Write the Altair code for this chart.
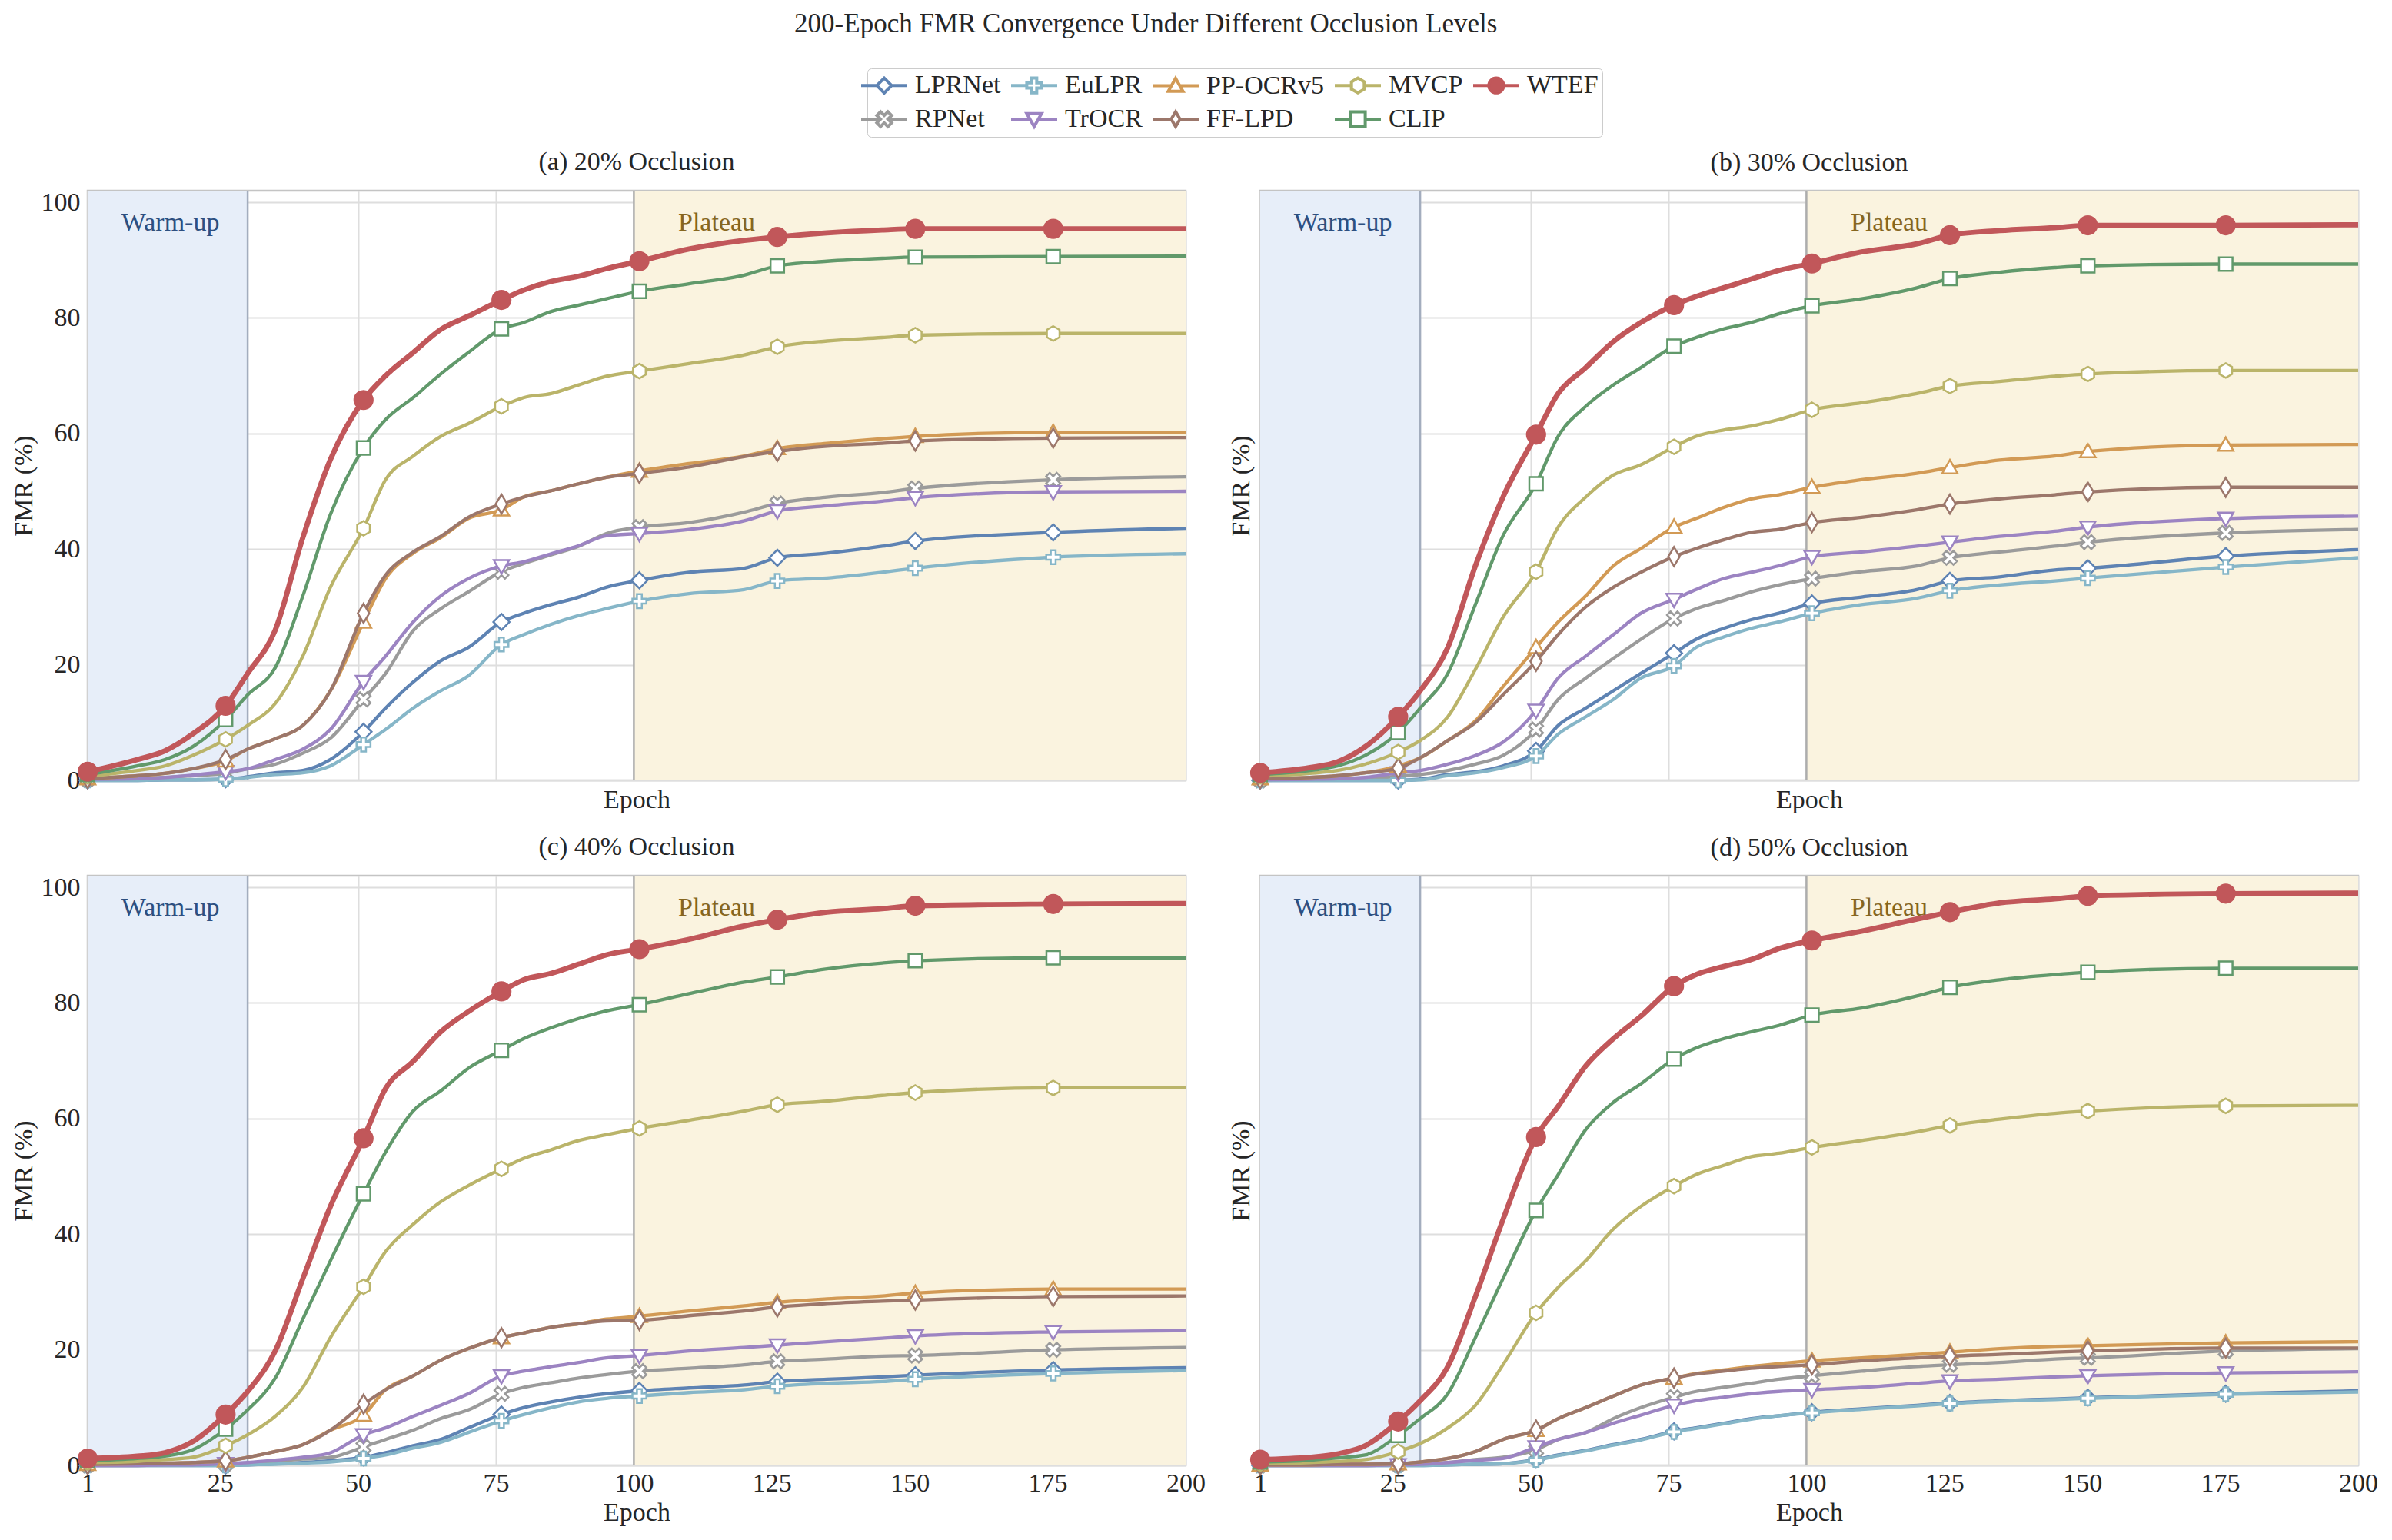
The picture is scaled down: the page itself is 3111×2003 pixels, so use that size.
import altair as alt
import pandas as pd

# ---------------- data ----------------
EPOCHS = [1, 10, 15, 20, 26, 30, 35, 40, 45, 51, 55, 60, 65, 70, 76, 80, 85, 90, 95,
          101, 110, 120, 126, 135, 145, 151, 176, 200]
MARKER_EPOCHS = [1, 26, 51, 76, 101, 126, 151, 176]
X_TICKS = [1, 25, 50, 75, 100, 125, 150, 175, 200]
Y_TICKS = [0, 20, 40, 60, 80, 100]

# (a) 20% occlusion
LPRNET_20 = [0.0, 0.0, 0.1, 0.1, 0.2, 0.6, 1.3, 1.7, 3.6, 8.4, 12.5, 17.0, 20.7, 23.0, 27.4, 28.9, 30.4, 31.7, 33.4, 34.6, 36.0, 36.7, 38.5, 39.3, 40.5, 41.4, 42.9, 43.6]
EULPR_20 = [0.0, 0.0, 0.1, 0.1, 0.2, 0.5, 1.0, 1.3, 2.5, 6.2, 8.8, 12.5, 15.5, 18.1, 23.5, 25.2, 27.0, 28.5, 29.7, 31.0, 32.3, 33.0, 34.5, 35.0, 36.0, 36.7, 38.6, 39.2]
RPNET_20 = [0.1, 0.3, 0.5, 0.8, 1.2, 2.0, 2.8, 4.7, 7.3, 14.0, 18.5, 25.9, 29.7, 32.6, 36.1, 37.5, 39.0, 40.5, 42.7, 43.8, 44.6, 46.4, 47.9, 49.0, 49.8, 50.5, 52.0, 52.5]
TROCR_20 = [0.2, 0.3, 0.5, 0.9, 1.5, 2.0, 3.6, 5.4, 8.8, 17.1, 21.5, 27.4, 31.9, 34.9, 37.1, 37.8, 39.2, 40.6, 42.3, 42.7, 43.4, 44.9, 46.6, 47.5, 48.3, 48.9, 49.9, 50.0]
PPOCR_20 = [0.3, 0.8, 1.2, 2.0, 3.4, 5.4, 7.2, 9.5, 15.5, 27.4, 34.9, 39.3, 42.0, 45.3, 46.8, 49.0, 50.1, 51.3, 52.4, 53.5, 54.8, 56.1, 57.4, 58.3, 59.1, 59.5, 60.2, 60.2]
FFLPD_20 = [0.3, 0.8, 1.2, 2.0, 3.6, 5.4, 7.2, 9.5, 15.5, 28.9, 35.5, 39.5, 42.2, 45.5, 47.8, 49.0, 50.1, 51.3, 52.4, 53.1, 54.2, 56.0, 56.9, 57.8, 58.3, 58.7, 59.2, 59.3]
MVCP_20 = [0.7, 1.7, 2.5, 4.3, 7.1, 9.5, 13.3, 21.5, 33.4, 43.6, 52.0, 56.1, 59.5, 61.7, 64.7, 66.2, 66.9, 68.4, 69.9, 70.8, 72.1, 73.6, 75.0, 76.0, 76.6, 77.0, 77.3, 77.3]
CLIP_20 = [1.0, 2.5, 3.6, 5.8, 10.5, 14.8, 19.5, 31.9, 46.0, 57.5, 62.4, 66.2, 70.3, 74.0, 78.1, 79.2, 81.1, 82.2, 83.3, 84.6, 85.9, 87.4, 89.0, 89.8, 90.3, 90.5, 90.6, 90.7]
WTEF_20 = [1.5, 3.6, 5.1, 8.0, 12.9, 18.5, 26.0, 42.0, 55.5, 65.8, 70.0, 74.0, 78.0, 80.3, 83.1, 84.8, 86.3, 87.2, 88.5, 89.8, 91.9, 93.4, 94.0, 94.7, 95.2, 95.4, 95.4, 95.4]

# (b) 30% occlusion
LPRNET_30 = [0.0, 0.0, 0.0, 0.0, 0.0, 0.2, 1.0, 1.5, 2.5, 5.1, 9.5, 12.5, 15.5, 18.5, 22.0, 24.4, 26.3, 27.8, 28.9, 30.6, 31.7, 33.0, 34.5, 35.2, 36.4, 36.7, 38.8, 39.9]
EULPR_30 = [0.0, 0.0, 0.0, 0.0, 0.0, 0.1, 0.8, 1.3, 2.2, 4.2, 8.0, 11.0, 14.0, 17.7, 19.8, 23.0, 24.8, 26.3, 27.4, 28.9, 30.4, 31.5, 32.8, 33.8, 34.5, 35.0, 36.9, 38.5]
RPNET_30 = [0.0, 0.1, 0.2, 0.3, 0.7, 1.0, 1.7, 2.8, 4.3, 8.8, 14.0, 17.7, 21.1, 24.4, 28.0, 29.7, 31.1, 32.6, 33.8, 34.9, 36.1, 37.1, 38.5, 39.5, 40.5, 41.2, 42.8, 43.4]
TROCR_30 = [0.1, 0.2, 0.3, 0.5, 1.3, 1.7, 2.8, 4.3, 6.6, 12.1, 17.7, 21.5, 25.2, 28.9, 31.3, 33.0, 34.9, 36.0, 37.1, 38.7, 39.5, 40.5, 41.2, 42.2, 43.1, 43.8, 45.3, 45.7]
PPOCR_30 = [0.3, 0.5, 0.8, 1.3, 2.5, 3.9, 6.9, 10.3, 16.2, 23.0, 27.4, 31.9, 37.1, 40.1, 43.8, 45.3, 47.2, 48.7, 49.4, 50.7, 52.0, 53.1, 54.1, 55.4, 56.1, 56.9, 58.0, 58.1]
FFLPD_30 = [0.3, 0.5, 0.8, 1.3, 2.1, 3.9, 6.9, 10.0, 14.8, 20.6, 25.2, 30.0, 33.4, 36.0, 38.7, 40.1, 41.6, 42.9, 43.4, 44.6, 45.5, 46.8, 47.8, 48.7, 49.4, 49.9, 50.7, 50.7]
MVCP_30 = [0.7, 1.2, 1.7, 2.8, 4.9, 6.9, 11.0, 19.2, 28.2, 36.1, 43.8, 49.0, 52.8, 54.6, 57.7, 59.5, 60.6, 61.3, 62.4, 64.1, 65.3, 66.9, 68.2, 69.0, 69.9, 70.3, 70.9, 70.9]
CLIP_30 = [1.0, 1.7, 2.5, 4.3, 8.3, 12.5, 18.5, 30.4, 42.3, 51.3, 59.5, 64.7, 68.4, 71.4, 75.1, 76.6, 78.1, 79.2, 80.7, 82.1, 83.3, 85.2, 86.8, 87.9, 88.7, 89.0, 89.3, 89.3]
WTEF_30 = [1.3, 2.2, 3.2, 5.8, 11.0, 15.5, 23.0, 37.1, 49.0, 59.8, 66.9, 71.4, 75.9, 79.2, 82.2, 83.7, 85.2, 86.7, 88.2, 89.4, 91.4, 92.8, 94.3, 95.1, 95.6, 96.0, 96.0, 96.1]

# (c) 40% occlusion
LPRNET_40 = [0.0, 0.0, 0.0, 0.0, 0.0, 0.1, 0.3, 0.5, 0.8, 1.4, 2.2, 3.4, 4.5, 6.5, 8.8, 10.0, 11.0, 11.8, 12.4, 12.9, 13.4, 13.9, 14.5, 14.9, 15.3, 15.6, 16.5, 16.9]
EULPR_40 = [0.0, 0.0, 0.0, 0.0, 0.0, 0.1, 0.2, 0.4, 0.6, 1.2, 1.8, 3.0, 4.0, 5.7, 7.7, 8.8, 10.0, 11.0, 11.6, 12.0, 12.6, 13.1, 13.7, 14.2, 14.5, 14.9, 15.9, 16.4]
RPNET_40 = [0.0, 0.0, 0.1, 0.1, 0.2, 0.4, 0.7, 1.1, 1.4, 3.2, 4.5, 6.1, 8.1, 9.6, 12.4, 13.5, 14.3, 15.1, 15.7, 16.3, 16.8, 17.4, 18.0, 18.4, 18.9, 19.0, 20.0, 20.4]
TROCR_40 = [0.0, 0.0, 0.1, 0.1, 0.3, 0.5, 0.9, 1.4, 2.2, 5.3, 6.5, 8.5, 10.4, 12.4, 15.5, 16.3, 17.1, 17.8, 18.6, 19.0, 19.8, 20.4, 20.8, 21.4, 22.0, 22.4, 23.1, 23.3]
PPOCR_40 = [0.2, 0.3, 0.4, 0.5, 0.8, 1.4, 2.4, 3.6, 6.1, 8.7, 13.1, 15.5, 18.2, 20.2, 22.1, 22.9, 23.9, 24.5, 25.3, 25.8, 26.7, 27.6, 28.2, 28.8, 29.3, 29.8, 30.5, 30.5]
FFLPD_40 = [0.2, 0.3, 0.4, 0.5, 0.8, 1.4, 2.4, 3.6, 6.1, 10.6, 13.1, 15.5, 18.2, 20.2, 22.1, 22.9, 23.9, 24.5, 25.0, 25.1, 25.9, 26.7, 27.4, 28.0, 28.4, 28.6, 29.2, 29.3]
MVCP_40 = [0.5, 0.7, 1.0, 1.4, 3.4, 5.3, 8.5, 13.5, 22.1, 30.9, 37.0, 41.7, 45.6, 48.4, 51.3, 53.1, 54.6, 56.2, 57.2, 58.3, 59.7, 61.3, 62.4, 63.0, 64.0, 64.5, 65.3, 65.3]
CLIP_40 = [0.8, 1.2, 1.6, 2.7, 6.3, 9.6, 15.1, 25.3, 35.4, 47.0, 54.2, 61.3, 64.8, 68.7, 71.8, 73.8, 75.7, 77.3, 78.6, 79.7, 81.6, 83.6, 84.5, 85.9, 86.9, 87.3, 87.8, 87.8]
WTEF_40 = [1.2, 1.6, 2.2, 4.1, 8.8, 12.8, 19.8, 32.3, 44.8, 56.6, 65.2, 69.9, 75.0, 78.5, 82.0, 84.0, 85.1, 86.7, 88.3, 89.3, 91.0, 93.3, 94.4, 95.7, 96.3, 96.8, 97.1, 97.2]

# (d) 50% occlusion
LPRNET_50 = [0.0, 0.0, 0.0, 0.0, 0.0, 0.0, 0.1, 0.2, 0.3, 1.0, 1.8, 2.6, 3.6, 4.5, 5.9, 6.5, 7.3, 8.1, 8.6, 9.2, 9.8, 10.4, 10.8, 11.2, 11.5, 11.7, 12.4, 12.9]
EULPR_50 = [0.0, 0.0, 0.0, 0.0, 0.0, 0.0, 0.1, 0.2, 0.3, 0.9, 1.7, 2.5, 3.5, 4.4, 5.8, 6.4, 7.2, 8.0, 8.6, 9.1, 9.7, 10.3, 10.7, 11.1, 11.4, 11.6, 12.3, 12.7]
RPNET_50 = [0.0, 0.0, 0.0, 0.0, 0.1, 0.2, 0.5, 1.0, 1.4, 2.7, 4.5, 5.7, 8.1, 10.0, 11.8, 12.8, 13.5, 14.2, 14.9, 15.5, 16.3, 17.1, 17.4, 17.8, 18.4, 18.6, 19.8, 20.2]
TROCR_50 = [0.0, 0.0, 0.0, 0.0, 0.1, 0.2, 0.5, 0.9, 1.2, 3.2, 4.5, 5.7, 7.3, 8.7, 10.4, 11.2, 11.8, 12.4, 12.8, 13.1, 13.5, 14.2, 14.6, 14.9, 15.3, 15.5, 16.0, 16.2]
PPOCR_50 = [0.1, 0.1, 0.2, 0.2, 0.3, 0.6, 1.2, 2.4, 4.5, 6.1, 8.1, 10.0, 12.0, 13.9, 15.1, 15.9, 16.5, 17.1, 17.6, 18.1, 18.6, 19.2, 19.6, 20.2, 20.6, 20.7, 21.2, 21.4]
FFLPD_50 = [0.1, 0.1, 0.2, 0.2, 0.3, 0.6, 1.2, 2.4, 4.5, 6.1, 8.1, 10.0, 12.0, 13.9, 15.1, 15.8, 16.3, 16.8, 17.1, 17.4, 18.1, 18.6, 18.9, 19.2, 19.6, 19.8, 20.3, 20.3]
MVCP_50 = [0.3, 0.5, 0.7, 1.0, 2.4, 3.8, 6.5, 10.4, 17.4, 26.4, 30.8, 35.4, 40.9, 44.8, 48.3, 50.3, 51.9, 53.4, 54.0, 55.0, 56.2, 57.7, 58.8, 59.9, 60.9, 61.3, 62.2, 62.3]
CLIP_50 = [0.6, 0.9, 1.3, 1.8, 5.2, 8.1, 12.4, 22.1, 32.3, 44.1, 50.3, 58.1, 62.8, 66.0, 70.3, 72.2, 73.8, 75.0, 76.1, 77.9, 79.1, 81.2, 82.7, 84.0, 84.9, 85.3, 86.0, 86.0]
WTEF_50 = [1.0, 1.4, 2.0, 3.4, 7.6, 11.2, 17.1, 29.2, 42.5, 56.8, 62.1, 69.1, 73.8, 77.7, 82.9, 84.9, 86.3, 87.5, 89.4, 90.8, 92.4, 94.5, 95.7, 97.3, 98.0, 98.5, 98.9, 99.0]

MODELS = ["LPRNet", "RPNet", "EuLPR", "TrOCR", "PP-OCRv5", "FF-LPD", "MVCP", "CLIP", "WTEF"]
LEGEND_ORDER = ["LPRNet", "EuLPR", "PP-OCRv5", "MVCP", "WTEF", "RPNet", "TrOCR", "FF-LPD", "CLIP"]
PANEL_KEYS = ["20", "30", "40", "50"]
PANEL_TITLES = ["(a) 20% Occlusion", "(b) 30% Occlusion", "(c) 40% Occlusion", "(d) 50% Occlusion"]

SERIES = {
    "20": [LPRNET_20, RPNET_20, EULPR_20, TROCR_20, PPOCR_20, FFLPD_20, MVCP_20, CLIP_20, WTEF_20],
    "30": [LPRNET_30, RPNET_30, EULPR_30, TROCR_30, PPOCR_30, FFLPD_30, MVCP_30, CLIP_30, WTEF_30],
    "40": [LPRNET_40, RPNET_40, EULPR_40, TROCR_40, PPOCR_40, FFLPD_40, MVCP_40, CLIP_40, WTEF_40],
    "50": [LPRNET_50, RPNET_50, EULPR_50, TROCR_50, PPOCR_50, FFLPD_50, MVCP_50, CLIP_50, WTEF_50],
}

SPAN_NAMES = ["Warm-up", "Plateau"]
SPAN_START = [1, 100]
SPAN_END = [30, 200]
SPAN_LABEL_X = [16, 115]
SPAN_LABEL_Y = [96.4, 96.4]

# ---------------- styles ----------------
FONT = "Liberation Serif"
TEXT = "#262626"
FS = 34
PW, PH = 1428, 767

COLORS = {
    "LPRNet": "#5E83B3", "RPNet": "#9B9B9B", "EuLPR": "#86B6C8", "TrOCR": "#9C84C2",
    "PP-OCRv5": "#D29A55", "FF-LPD": "#9C776B", "MVCP": "#BAB46A", "CLIP": "#61996B",
    "WTEF": "#C1575A",
}
LINE_W = {m: 4.3 for m in MODELS}
LINE_W["WTEF"] = 6.8

PLUS = [(-0.35, -1), (0.35, -1), (0.35, -0.35), (1, -0.35), (1, 0.35), (0.35, 0.35),
        (0.35, 1), (-0.35, 1), (-0.35, 0.35), (-1, 0.35), (-1, -0.35), (-0.35, -0.35)]
XSHAPE = [(-1, -0.5), (-0.5, -1), (0, -0.5), (0.5, -1), (1, -0.5), (0.5, 0),
          (1, 0.5), (0.5, 1), (0, 0.5), (-0.5, 1), (-1, 0.5), (-0.5, 0)]
MARKER_VERTS = {
    "LPRNet": [(0, -1), (1, 0), (0, 1), (-1, 0)],
    "RPNet": XSHAPE,
    "EuLPR": PLUS,
    "TrOCR": [(-1, -0.75), (1, -0.75), (0, 1)],
    "PP-OCRv5": [(0, -1), (1, 0.75), (-1, 0.75)],
    "FF-LPD": [(0, -1), (0.6, 0), (0, 1), (-0.6, 0)],
    "MVCP": [(0, -1), (0.866, -0.5), (0.866, 0.5), (0, 1), (-0.866, 0.5), (-0.866, -0.5)],
    "CLIP": [(-1, -1), (1, -1), (1, 1), (-1, 1)],
    "WTEF": None,
}
HALF_AT_Y0 = {"LPRNet": 1, "RPNet": 0.5, "EuLPR": 1, "TrOCR": 0.571, "PP-OCRv5": 0.571,
              "FF-LPD": 0.6, "MVCP": 0.866, "CLIP": 1, "WTEF": 1}
MARKER_SIZE = {"LPRNet": 440, "RPNet": 330, "EuLPR": 330, "TrOCR": 400, "PP-OCRv5": 400,
               "FF-LPD": 620, "MVCP": 360, "CLIP": 310, "WTEF": 560}
MARKER_FILL = {m: "white" for m in MODELS}
MARKER_FILL["WTEF"] = COLORS["WTEF"]


def shape_path(m, scale=1.0, dx=0.0):
    verts = MARKER_VERTS[m]
    if verts is None:
        r = scale
        return (f"M{dx + r:.3f},0A{r:.3f},{r:.3f},0,1,1,{dx - r:.3f},0"
                f"A{r:.3f},{r:.3f},0,1,1,{dx + r:.3f},0Z")
    pts = [f"{x * scale + dx:.3f},{y * scale:.3f}" for x, y in verts]
    return "M" + "L".join(pts) + "Z"


def legend_path(m):
    k = 0.8
    g = HALF_AT_Y0[m] * k
    return f"M-2.5,0H{-g:.3f}M{g:.3f},0H2.5" + shape_path(m, k, 0.0)


# ---------------- tables ----------------
rows = []
for key in PANEL_KEYS:
    for m, vals in zip(MODELS, SERIES[key]):
        for e, v in zip(EPOCHS, vals):
            rows.append({"panel": key, "model": m, "epoch": e, "fmr": v,
                         "marker": e in MARKER_EPOCHS})
df = pd.DataFrame(rows)
spans = pd.DataFrame({"name": SPAN_NAMES, "start": SPAN_START, "end": SPAN_END,
                      "lx": SPAN_LABEL_X, "ly": SPAN_LABEL_Y})

XS = alt.Scale(domain=[1, 200], nice=False, zero=False)
YS = alt.Scale(domain=[0, 102], nice=False, zero=False)

LEG = alt.Legend(orient="none", legendX=1014, legendY=-159, direction="horizontal", columns=5,
                 symbolSize=576, symbolStrokeWidth=4, labelOffset=23, columnPadding=5,
                 rowPadding=8, padding=5, strokeColor="#cccccc", fillColor="white",
                 cornerRadius=5, labelFont=FONT, labelFontSize=FS, labelColor=TEXT,
                 labelLimit=400, title=None, symbolOpacity=1)


def panel(i):
    key = PANEL_KEYS[i]
    top = i < 2
    left = i % 2 == 0
    if top:
        XA = alt.Axis(values=X_TICKS, labels=False, title="Epoch", titlePadding=8)
    else:
        XA = alt.Axis(values=X_TICKS, labels=True, title="Epoch", labelPadding=6,
                      titlePadding=4)
    if left:
        YA = alt.Axis(values=Y_TICKS, labels=True, title="FMR (%)", labelPadding=10,
                      titlePadding=5)
    else:
        YA = alt.Axis(values=Y_TICKS, labels=False, title="FMR (%)", titlePadding=8)

    def xq(f):
        return alt.X(f, type="quantitative", scale=XS, axis=XA)

    def yq(f):
        return alt.Y(f, type="quantitative", scale=YS, axis=YA)

    sp = alt.Chart(spans)
    layers = [
        sp.transform_filter(alt.datum.name == "Warm-up").mark_rect(fill="#E7EEF9").encode(
            x=xq("start"), x2="end",
            y=alt.YDatum(0, type="quantitative", scale=YS, axis=YA), y2=alt.Y2Datum(102)),
        sp.transform_filter(alt.datum.name == "Plateau").mark_rect(fill="#FAF3DF").encode(
            x=xq("start"), x2="end",
            y=alt.YDatum(0, type="quantitative", scale=YS, axis=YA), y2=alt.Y2Datum(102)),
        sp.transform_filter(alt.datum.name == "Warm-up").mark_rule(
            color="#A3ADBE", strokeWidth=2.5).encode(x=xq("end")),
        sp.transform_filter(alt.datum.name == "Plateau").mark_rule(
            color="#ADADAD", strokeWidth=2.5).encode(x=xq("start")),
        sp.transform_filter(alt.datum.name == "Warm-up").mark_text(
            font=FONT, fontSize=FS, color="#2D4F80", align="center", baseline="middle").encode(
            x=xq("lx"), y=yq("ly"), text="name:N"),
        sp.transform_filter(alt.datum.name == "Plateau").mark_text(
            font=FONT, fontSize=FS, color="#86661E", align="center", baseline="middle").encode(
            x=xq("lx"), y=yq("ly"), text="name:N"),
    ]
    base = alt.Chart(df).transform_filter(alt.datum.panel == key)
    for m in MODELS:
        layers.append(
            base.transform_filter(alt.datum.model == m).mark_line(
                color=COLORS[m], strokeWidth=LINE_W[m], interpolate="monotone").encode(
                x=xq("epoch"), y=yq("fmr")))
        layers.append(
            base.transform_filter((alt.datum.model == m) & (alt.datum.marker == True)).mark_point(
                shape=shape_path(m), size=MARKER_SIZE[m], filled=True, fill=MARKER_FILL[m],
                stroke=COLORS[m], strokeWidth=2.5, opacity=1).encode(
                x=xq("epoch"), y=yq("fmr")))
    if i == 0:
        layers.append(
            base.transform_filter(alt.datum.epoch == 1).mark_point(opacity=0).encode(
                x=xq("epoch"), y=yq("fmr"),
                stroke=alt.Stroke("model:N", scale=alt.Scale(
                    domain=LEGEND_ORDER, range=[COLORS[m] for m in LEGEND_ORDER]), legend=LEG),
                fill=alt.Fill("model:N", scale=alt.Scale(
                    domain=LEGEND_ORDER, range=[MARKER_FILL[m] for m in LEGEND_ORDER]), legend=LEG),
                shape=alt.Shape("model:N", scale=alt.Scale(
                    domain=LEGEND_ORDER, range=[legend_path(m) for m in LEGEND_ORDER]), legend=LEG),
            ))
    return alt.layer(*layers).properties(
        width=PW, height=PH,
        title=alt.TitleParams(text=PANEL_TITLES[i], offset=18, fontSize=FS, anchor="middle"))


chart = alt.concat(
    *[panel(i) for i in range(4)], columns=2, spacing={"row": 124, "column": 97},
    bounds="flush",
).properties(
    title=alt.TitleParams(text="200-Epoch FMR Convergence Under Different Occlusion Levels",
                          fontSize=35, offset=40, dx=-63, anchor="middle"),
    padding={"left": 4, "top": 5, "right": 5, "bottom": 5},
    background="white",
).configure_view(
    stroke="#C4C4C4", strokeWidth=2.5
).configure_axis(
    grid=True, gridColor="#DEDEDE", gridWidth=2, domain=False, ticks=False, tickSize=0,
    labelFont=FONT, labelFontSize=FS, labelColor=TEXT, labelFlush=False, labelOverlap=False,
    titleFont=FONT, titleFontSize=FS, titleFontWeight="normal", titleColor=TEXT,
).configure_title(
    font=FONT, fontSize=FS, fontWeight="normal", color=TEXT
)

chart.save("out.html", embed_options={"renderer": "svg", "actions": False})
